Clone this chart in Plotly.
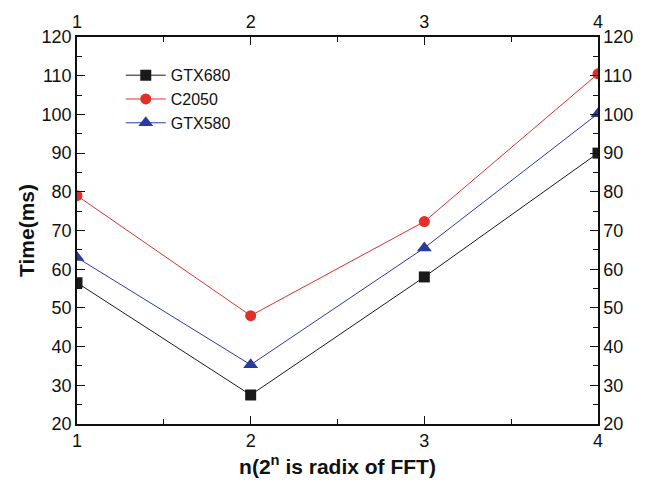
import plotly.graph_objects as go

x = [1, 2, 3, 4]
gtx680 = [56.5, 27.5, 58.0, 90.0]
c2050 = [79.0, 48.0, 72.3, 110.5]
gtx580 = [63.0, 35.3, 65.5, 100.2]

series = [
    ('GTX680', gtx680, '#1a1a1a', 'square', 11),
    ('C2050', c2050, '#e0302a', 'circle', 11),
    ('GTX580', gtx580, '#2a3b9e', 'triangle-up', 13),
]

fig = go.Figure()
for name, ys, color, symbol, msize in series:
    fig.add_trace(go.Scatter(x=x, y=ys, name=name, mode='lines+markers',
                             line=dict(color=color, width=1),
                             marker=dict(color=color, symbol=symbol, size=msize)))

# invisible trace to carry the top / right axes
fig.add_trace(go.Scatter(x=x, y=gtx680, xaxis='x2', yaxis='y2', mode='markers',
                         marker=dict(opacity=0), showlegend=False, hoverinfo='skip'))

FONT = 'Liberation Sans, Arial'
tick_font = dict(family=FONT, size=18, color='#111')
title_font = dict(family=FONT, size=21, color='#111', weight='bold')
axis_common = dict(showgrid=False, zeroline=False, showline=True, linecolor='#111',
                   linewidth=1.5, ticks='inside', ticklen=8, tickwidth=1.2,
                   tickcolor='#111', tickfont=tick_font, automargin=False)

fig.update_layout(
    width=646, height=484,
    margin=dict(l=69, r=56, t=29, b=68),
    paper_bgcolor='white', plot_bgcolor='white',
    xaxis=dict(range=[1, 4], dtick=1, tick0=1,
               minor=dict(ticks='inside', dtick=0.5, ticklen=5, tickcolor='#111'),
               title=dict(text='n(2<sup>n</sup> is radix of FFT)', standoff=9,
                          font=title_font),
               **axis_common),
    yaxis=dict(range=[20, 120], dtick=10,
               minor=dict(ticks='inside', dtick=5, ticklen=5, tickcolor='#111'),
               title=dict(text='Time(ms)', standoff=1, font=title_font),
               **axis_common),
    xaxis2=dict(range=[1, 4], dtick=1, tick0=1, overlaying='x', side='top', anchor='y',
                minor=dict(ticks='inside', dtick=0.5, ticklen=5, tickcolor='#111'),
                **axis_common),
    yaxis2=dict(range=[20, 120], dtick=10, overlaying='y', side='right', anchor='x',
                minor=dict(ticks='inside', dtick=5, ticklen=5, tickcolor='#111'),
                **axis_common),
    legend=dict(x=0.084, y=0.945, xanchor='left', yanchor='top',
                bgcolor='rgba(0,0,0,0)', borderwidth=0,
                font=dict(family=FONT, size=16, color='#111'),
                tracegroupgap=0, itemwidth=40),
    showlegend=True,
)

fig.write_html('out.html')
